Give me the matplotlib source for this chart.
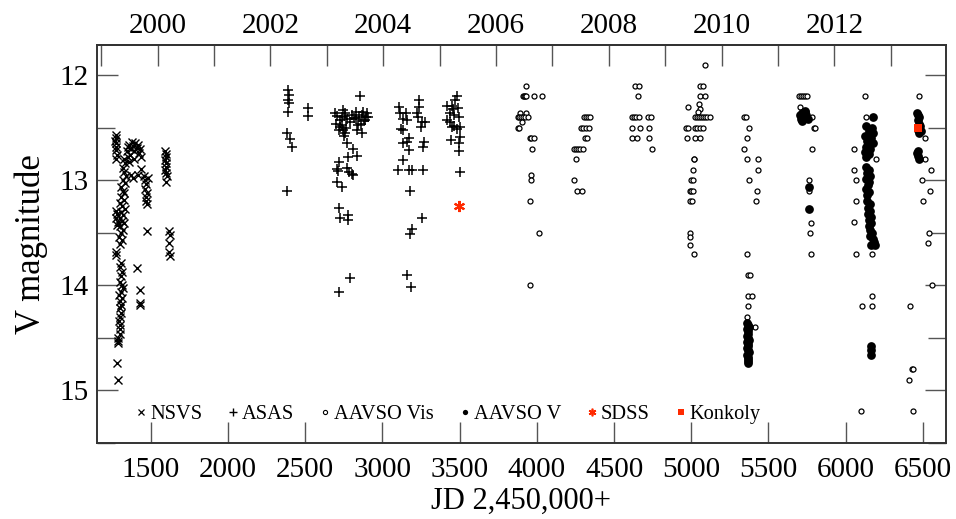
import matplotlib
matplotlib.use("Agg")
import matplotlib.pyplot as plt
from matplotlib.lines import Line2D
from matplotlib.ticker import FixedLocator, NullFormatter

# ---------------- data (JD - 2,450,000 ; V magnitude) ----------------
nsvs_jd = [1272, 1276, 1270, 1278, 1273, 1277, 1281, 1274,
           1277, 1283, 1275, 1286, 1280, 1272, 1277,
           1286, 1289, 1291, 1284, 1285,
           1325, 1335, 1320, 1330, 1340, 1322, 1333,
           1305, 1318, 1330, 1310, 1325, 1300, 1315, 1332, 1305, 1320, 1298, 1312, 1328, 1300, 1318,
           1305, 1295, 1312, 1302, 1308, 1300, 1314, 1306,
           1298, 1312, 1320, 1305, 1296, 1316, 1302, 1310, 1298, 1305,
           1300, 1296, 1302, 1298, 1300,
           1345, 1355, 1362, 1370, 1378, 1385, 1392, 1400, 1408, 1415, 1422, 1430, 1437, 1350, 1365, 1390, 1360,
           1375, 1385, 1420, 1440, 1411, 1430, 1428, 1432,
           1458, 1465, 1470, 1462, 1475, 1468, 1472, 1478, 1480, 1474,
           1592, 1596, 1600, 1594, 1598, 1602, 1595, 1600, 1604, 1598,
           1620, 1622, 1618, 1620, 1624]
nsvs_mag = [12.57, 12.60, 12.63, 12.65, 12.68, 12.71, 12.76, 12.80,
            13.29, 13.32, 13.36, 13.40, 13.43, 13.68, 13.71,
            14.50, 14.53, 14.55, 14.74, 14.90,
            12.80, 12.84, 12.88, 12.92, 12.96, 13.00, 13.03,
            13.06, 13.10, 13.12, 13.16, 13.19, 13.22, 13.25, 13.27, 13.30, 13.33, 13.36, 13.39, 13.41, 13.44, 13.47,
            13.50, 13.54, 13.57, 13.61, 13.79, 13.83, 13.87, 13.91,
            13.97, 14.00, 14.03, 14.06, 14.09, 14.12, 14.15, 14.19, 14.22, 14.26,
            14.30, 14.34, 14.38, 14.42, 14.46,
            12.72, 12.68, 12.66, 12.70, 12.64, 12.67, 12.72, 12.65, 12.69, 12.66, 12.74, 12.70, 12.78, 12.78, 12.76, 12.80, 12.83,
            12.95, 12.98, 12.95, 12.89, 13.84, 14.05, 14.17, 14.19,
            12.96, 13.00, 13.04, 13.08, 13.12, 13.16, 13.20, 13.23, 12.98, 13.48,
            12.72, 12.75, 12.78, 12.81, 12.84, 12.87, 12.90, 12.93, 12.96, 13.02,
            13.48, 13.52, 13.60, 13.68, 13.72]

asas_jd = [2391, 2393, 2390, 2396, 2391, 2385, 2402, 2415, 2385,
           2521, 2521,
           2855, 2694, 2704, 2726, 2748, 2758, 2758, 2700, 2726, 2748, 2758, 2752, 2830, 2830, 2834, 2866,
           2877, 2888, 2899, 2910, 2866, 2860, 2845, 2740, 2770, 2790, 2805, 2815, 2850, 2880, 2895, 2740,
           2765, 2720,
           2769, 2812, 2780, 2834, 2722, 2709, 2715, 2773, 2786, 2802, 2812, 2709, 2737, 2720, 2726, 2780,
           2780, 2791, 2722,
           3110, 3115, 3136, 3119, 3132, 3153, 3158, 3238, 3240, 3223, 3233, 3255, 3277, 3248, 3136, 3158,
           3173, 3173, 3270, 3266, 3132, 3104, 3173, 3190, 3261, 3179, 3259, 3190, 3179, 3158, 3184,
           3482, 3471, 3417, 3449, 3460, 3492, 3438, 3464, 3499, 3417, 3438, 3464, 3503, 3449, 3486, 3503,
           3445, 3499, 3499, 3503]
asas_mag = [12.14, 12.19, 12.24, 12.26, 12.35, 12.55, 12.61, 12.68, 13.10,
            12.31, 12.39,
            12.20, 12.36, 12.39, 12.43, 12.33, 12.36, 12.39, 12.46, 12.49, 12.52, 12.55, 12.58, 12.35, 12.42, 12.52, 12.38,
            12.35, 12.43, 12.36, 12.40, 12.55, 12.46, 12.47, 12.40, 12.42, 12.45, 12.38, 12.41, 12.40, 12.44, 12.40, 12.47,
            12.50, 12.52,
            12.65, 12.70, 12.78, 12.77, 12.83, 12.89, 12.91, 12.88, 12.92, 12.94, 12.95, 13.02, 13.06, 13.26, 13.36, 13.33,
            13.38, 13.93, 14.06,
            12.30, 12.36, 12.42, 12.51, 12.52, 12.36, 12.43, 12.24, 12.30, 12.36, 12.40, 12.45, 12.45, 12.49, 12.65, 12.64,
            12.60, 12.71, 12.64, 12.68, 12.81, 12.90, 12.90, 12.90, 12.90, 13.10, 13.36, 13.46, 13.51, 13.90, 14.02,
            12.20, 12.24, 12.29, 12.29, 12.32, 12.31, 12.36, 12.38, 12.40, 12.43, 12.45, 12.48, 12.49, 12.49, 12.51, 12.59,
            12.62, 12.65, 12.72, 12.92]

vis_jd = [3928, 3910, 3918, 3925, 3932, 3984, 4032, 3892, 3928, 3877, 3888, 3900, 3912, 3923, 3945, 3907,
          3880, 3885, 3955, 3965, 3985, 3967, 3963, 3965, 3956, 4017, 3958,
          4305, 4318, 4330, 4345, 4288, 4300, 4318, 4335, 4310, 4328, 4242, 4255, 4268, 4282, 4298, 4252,
          4242, 4258, 4296,
          4636, 4665, 4656, 4615, 4628, 4643, 4660, 4723, 4737, 4615, 4671, 4727, 4615, 4647, 4727, 4749,
          5092, 5058, 5079, 5058, 5090, 4982, 5050, 5055, 5045, 5025, 5040, 5052, 5062, 5075, 5090, 5105,
          5120, 4965, 4980, 5025, 5040, 5055, 5075, 4971, 5025, 5060, 5015, 5020, 5014, 5000, 5012, 4990,
          5000, 5012, 4993, 5003, 4993, 4993, 4990, 5021,
          5345, 5355, 5377, 5360, 5343, 5360, 5431, 5435, 5377, 5425, 5420, 5364, 5371, 5381, 5366, 5392,
          5371, 5364, 5414,
          5700, 5712, 5725, 5738, 5750, 5705, 5785, 5792, 5802, 5785, 5763, 5763, 5776, 5770, 5774,
          6126, 6130, 6055, 6195, 6053, 6064, 6068, 6053, 6068, 6169, 6172, 6107, 6172, 6098,
          6472, 6515, 6515, 6554, 6493, 6547, 6498, 6541, 6532, 6558, 6418, 6433, 6439, 6411, 6439]
vis_mag = [12.1, 12.2, 12.2, 12.2, 12.2, 12.2, 12.2, 12.36, 12.36, 12.4, 12.4, 12.4, 12.4, 12.4, 12.4, 12.45,
           12.5, 12.5, 12.6, 12.6, 12.6, 12.7, 12.95, 13.0, 13.2, 13.5, 14.0,
           12.4, 12.4, 12.4, 12.4, 12.5, 12.5, 12.5, 12.5, 12.6, 12.6, 12.7, 12.7, 12.7, 12.7, 12.7, 12.8,
           13.0, 13.1, 13.1,
           12.1, 12.1, 12.2, 12.4, 12.4, 12.4, 12.4, 12.4, 12.4, 12.5, 12.5, 12.5, 12.6, 12.6, 12.6, 12.7,
           11.9, 12.1, 12.1, 12.2, 12.2, 12.3, 12.27, 12.32, 12.35, 12.4, 12.4, 12.4, 12.4, 12.4, 12.4, 12.4,
           12.4, 12.5, 12.5, 12.5, 12.5, 12.5, 12.5, 12.6, 12.6, 12.6, 12.8, 12.8, 12.9, 13.0, 13.0, 13.1,
           13.1, 13.1, 13.2, 13.2, 13.5, 13.54, 13.62, 13.7,
           12.4, 12.4, 12.5, 12.6, 12.7, 12.8, 12.8, 12.9, 13.0, 13.1, 13.2, 13.7, 13.9, 13.9, 14.1, 14.1,
           14.2, 14.3, 14.4,
           12.2, 12.2, 12.2, 12.2, 12.2, 12.3, 12.4, 12.5, 12.5, 12.7, 13.0, 13.1, 13.41, 13.5, 13.7,
           12.2, 12.4, 12.7, 12.8, 12.9, 13.0, 13.2, 13.4, 13.7, 13.7, 14.1, 14.2, 14.2, 15.2,
           12.2, 12.6, 12.8, 12.9, 13.0, 13.1, 13.2, 13.5, 13.6, 14.0, 14.2, 14.8, 14.8, 14.9, 15.2]

v_jd = [5364, 5368, 5372, 5362, 5366, 5370, 5364, 5368, 5372, 5362, 5366, 5370, 5364, 5368, 5372, 5362,
        5366, 5370, 5367, 5369,
        5705, 5715, 5725, 5735, 5745, 5755, 5720, 5740, 5710, 5730, 5765, 5765,
        6180, 6135, 6170, 6150, 6180, 6128, 6165, 6140, 6178, 6130, 6160, 6125, 6150, 6132,
        6130, 6152, 6138, 6160, 6132, 6152, 6142, 6130, 6152, 6138,
        6140, 6158, 6145, 6160, 6148, 6162, 6150, 6165, 6152,
        6155, 6170, 6160, 6178, 6182, 6188, 6165,
        6162, 6164, 6166,
        6462, 6470, 6478, 6466, 6474, 6482, 6468, 6486, 6476, 6462, 6470, 6478, 6468]
v_mag = [14.36, 14.38, 14.40, 14.42, 14.44, 14.46, 14.48, 14.50, 14.52, 14.54, 14.56, 14.58, 14.60, 14.62, 14.64, 14.66,
         14.68, 14.70, 14.72, 14.74,
         12.38, 12.36, 12.40, 12.34, 12.38, 12.42, 12.44, 12.35, 12.42, 12.40, 13.06, 13.27,
         12.40, 12.48, 12.50, 12.53, 12.55, 12.58, 12.60, 12.63, 12.65, 12.68, 12.70, 12.73, 12.75, 12.78,
         12.87, 12.90, 12.93, 12.96, 12.99, 13.02, 13.05, 13.08, 13.11, 13.14,
         13.20, 13.23, 13.26, 13.29, 13.32, 13.35, 13.38, 13.41, 13.44,
         13.47, 13.50, 13.53, 13.56, 13.59, 13.62, 13.62,
         14.58, 14.62, 14.66,
         12.36, 12.38, 12.40, 12.43, 12.46, 12.48, 12.52, 12.53, 12.55, 12.74, 12.77, 12.80, 12.72]

sdss_jd = [3497]
sdss_mag = [13.25]
konkoly_jd = [6467]
konkoly_mag = [12.50]

x_ticks = [1500, 2000, 2500, 3000, 3500, 4000, 4500, 5000, 5500, 6000, 6500]
y_ticks = [12, 13, 14, 15]
year_labels = [2000, 2002, 2004, 2006, 2008, 2010, 2012]
year_minor = [1999, 2001, 2003, 2005, 2007, 2009, 2011, 2013]

# ---------------- style ----------------
FONT = ["Liberation Serif", "DejaVu Serif"]
plt.rcParams["font.family"] = FONT
RED = "#ff2a00"
SPINE = "#333333"
TICK = "#555555"

fig = plt.figure(figsize=(9.56, 5.19), dpi=100)
L, R, T, B = 96.7, 946.0, 44.8, 442.7
ax = fig.add_axes([L / 956, 1 - B / 519, (R - L) / 956, (B - T) / 519])

ax.plot(nsvs_jd, nsvs_mag, ls="none", marker="x", ms=6, mew=1.0, color="k", zorder=3)
ax.plot(asas_jd, asas_mag, ls="none", marker="+", ms=7, mew=1.1, color="k", zorder=3)
ax.plot(vis_jd, vis_mag, ls="none", marker="o", ms=3.6, mew=0.9, mfc="white", mec="k", zorder=3)
ax.plot(v_jd, v_mag, ls="none", marker="o", ms=6.3, mew=0, color="k", zorder=4)
ax.plot(sdss_jd, sdss_mag, ls="none", marker=(6, 2, 0), ms=8, mew=1.5, color=RED, zorder=5)
ax.plot(konkoly_jd, konkoly_mag, ls="none", marker="s", ms=5.3, mew=0, color=RED, zorder=5)

ax.set_xlim(1150, 6650)
ax.set_ylim(15.5, 11.71)

ax.xaxis.set_major_locator(FixedLocator(x_ticks))
ax.yaxis.set_major_locator(FixedLocator(y_ticks))
ax.yaxis.set_minor_locator(FixedLocator([12.5, 13.5, 14.5, 15.5]))
ax.tick_params(axis="x", which="major", direction="in", length=15, width=1.0, color=TICK,
               labelsize=21, pad=10, top=False)
ax.tick_params(axis="y", which="both", direction="in", length=15, width=1.0, color=TICK,
               labelsize=21, pad=6, right=True)
ax.tick_params(axis="y", which="minor", length=13)

for s in ax.spines.values():
    s.set_color(SPINE)
    s.set_linewidth(1.4)

# top axis: calendar years
def jd2yr(x):
    return 2000.0 + (x - 1544.5) / 365.25

def yr2jd(y):
    return 1544.5 + (y - 2000.0) * 365.25

sec = ax.secondary_xaxis("top", functions=(jd2yr, yr2jd))
sec.xaxis.set_major_locator(FixedLocator(year_labels))
sec.xaxis.set_minor_locator(FixedLocator(year_minor))
sec.xaxis.set_minor_formatter(NullFormatter())
sec.tick_params(which="both", direction="in", length=15, width=1.0, color=TICK,
                labelsize=21, pad=4)
sec.spines["top"].set_color(SPINE)
sec.spines["top"].set_linewidth(1.4)

ax.set_xlabel("JD 2,450,000+", fontsize=22, labelpad=3)
ax.set_ylabel("V magnitude", fontsize=25, labelpad=8)

handles = [
    Line2D([], [], ls="none", marker="x", ms=3.8, mew=0.9, color="k"),
    Line2D([], [], ls="none", marker="+", ms=5.2, mew=1.0, color="k"),
    Line2D([], [], ls="none", marker="o", ms=3.0, mew=0.8, mfc="white", mec="k"),
    Line2D([], [], ls="none", marker="o", ms=3.8, mew=0, color="k"),
    Line2D([], [], ls="none", marker=(6, 2, 0), ms=5.5, mew=1.2, color=RED),
    Line2D([], [], ls="none", marker="s", ms=4.5, mew=0, color=RED),
]
labels = ["NSVS", "ASAS", "AAVSO Vis", "AAVSO V", "SDSS", "Konkoly"]
fig.legend(handles, labels, loc="center left", bbox_to_anchor=(136 / 956, 1 - 414 / 519),
           bbox_transform=fig.transFigure, ncol=6, frameon=False, fontsize=14.7,
           handlelength=0.5, handletextpad=0.2, columnspacing=1.25, borderpad=0, borderaxespad=0)

fig.savefig("out.png", dpi=100)
